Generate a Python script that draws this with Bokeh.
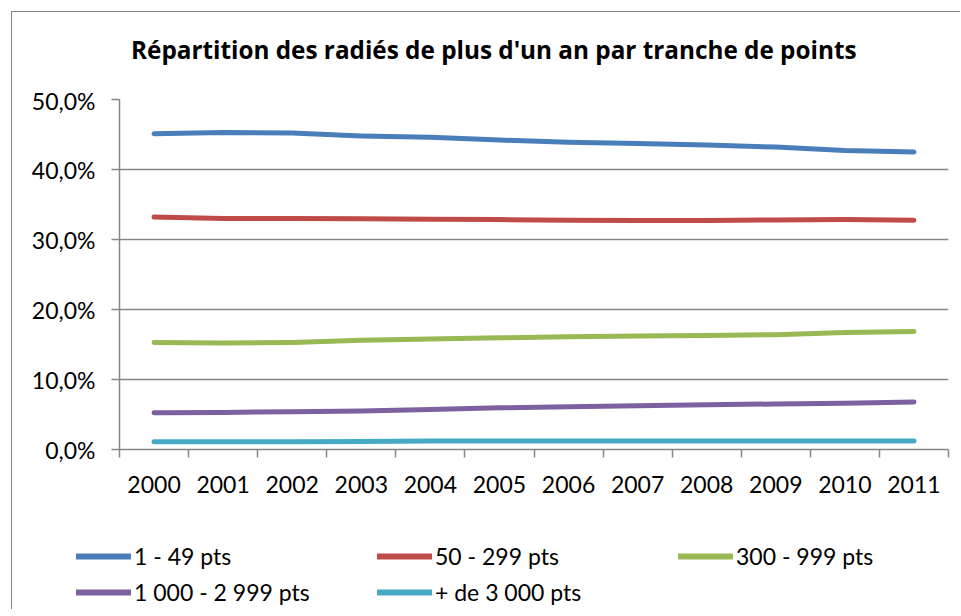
from bokeh.plotting import figure
from bokeh.layouts import column
from bokeh.models import FixedTicker, Legend, LegendItem, Range1d, Label
from bokeh.embed import file_html
from bokeh.resources import INLINE

years = ["2000", "2001", "2002", "2003", "2004", "2005", "2006", "2007", "2008", "2009", "2010", "2011"]
s_1_49 = [45.1, 45.3, 45.2, 44.8, 44.6, 44.2, 43.9, 43.7, 43.5, 43.2, 42.7, 42.5]
s_50_299 = [33.2, 33.0, 33.0, 32.95, 32.9, 32.85, 32.75, 32.7, 32.7, 32.8, 32.85, 32.75]
s_300_999 = [15.3, 15.2, 15.3, 15.6, 15.8, 15.95, 16.1, 16.2, 16.3, 16.4, 16.7, 16.85]
s_1000_2999 = [5.25, 5.3, 5.4, 5.5, 5.7, 5.95, 6.1, 6.25, 6.4, 6.5, 6.6, 6.8]
s_3000 = [1.1, 1.1, 1.1, 1.15, 1.2, 1.2, 1.2, 1.2, 1.2, 1.2, 1.2, 1.2]
series = [s_1_49, s_50_299, s_300_999, s_1000_2999, s_3000]
names = ["1 - 49 pts", "50 - 299 pts", "300 - 999 pts", "1 000 - 2 999 pts", "+ de 3 000 pts"]
colors = ["#4A7EBB", "#BE4B48", "#98B954", "#7D60A0", "#46AAC5"]
y_ticks = [0, 10, 20, 30, 40, 50]
y_tick_labels = ["0,0%", "10,0%", "20,0%", "30,0%", "40,0%", "50,0%"]
title_text = "Répartition des radiés de plus d'un an par tranche de points"

FONT = "Lato"
GRID = "#868686"
W = 948

x_centers = [i + 0.5 for i in range(len(years))]

# ---- title strip ----
pt = figure(width=W, height=74, output_backend="svg", toolbar_location=None,
            x_axis_location=None, y_axis_location=None,
            x_range=Range1d(0, W), y_range=Range1d(74, 0),
            min_border_left=0, min_border_right=0, min_border_top=0, min_border_bottom=0)
pt.frame_align = False
pt.grid.grid_line_color = None
pt.outline_line_color = None
pt.background_fill_color = "white"
pt.border_fill_color = "white"
pt.add_layout(Label(x=118.5, y=37, text=title_text, text_font="Open Sans", text_font_size="24.3px",
                    text_font_style="bold", text_color="black", text_align="left",
                    text_baseline="alphabetic"))

# ---- main chart ----
p = figure(frame_width=829, frame_height=350, output_backend="svg", toolbar_location=None,
           x_range=Range1d(0, len(years)), y_range=Range1d(0, 50),
           min_border_left=107, min_border_right=12, min_border_top=13, min_border_bottom=60)
p.frame_align = False
p.outline_line_color = None
p.background_fill_color = "white"
p.border_fill_color = "white"

for vals, col in zip(series, colors):
    p.line(x_centers, vals, line_color=col, line_width=5, line_cap="round", line_join="round")

p.xaxis.ticker = FixedTicker(ticks=x_centers, minor_ticks=list(range(len(years) + 1)))
p.xaxis.major_label_overrides = {x: y for x, y in zip(x_centers, years)}
p.xaxis.major_tick_line_color = None
p.xaxis.major_tick_out = 8
p.xaxis.major_tick_in = 0
p.xaxis.minor_tick_out = 8
p.xaxis.minor_tick_in = 0
p.xaxis.minor_tick_line_color = GRID
p.xaxis.minor_tick_line_width = 1.5
p.xaxis.axis_line_color = GRID
p.xaxis.axis_line_width = 1.5
p.xaxis.major_label_standoff = 18
p.xaxis.major_label_text_font = FONT
p.xaxis.major_label_text_font_size = "23px"
p.xaxis.major_label_text_color = "black"

p.yaxis.ticker = FixedTicker(ticks=y_ticks, minor_ticks=[])
p.yaxis.major_label_overrides = {t: l for t, l in zip(y_ticks, y_tick_labels)}
p.yaxis.major_tick_out = 8
p.yaxis.major_tick_in = 0
p.yaxis.major_tick_line_color = GRID
p.yaxis.major_tick_line_width = 1.5
p.yaxis.axis_line_color = GRID
p.yaxis.axis_line_width = 1.5
p.yaxis.major_label_standoff = 16
p.yaxis.major_label_text_font = FONT
p.yaxis.major_label_text_font_size = "23px"
p.yaxis.major_label_text_color = "black"

p.xgrid.grid_line_color = None
p.ygrid.grid_line_color = GRID
p.ygrid.grid_line_width = 1.5

# ---- legend strip (same series, drawn outside the visible range; only the legend shows) ----
pl = figure(width=W, height=100, output_backend="svg", toolbar_location=None,
            x_axis_location=None, y_axis_location=None,
            x_range=Range1d(0, len(years)), y_range=Range1d(-20, -10),
            min_border_left=0, min_border_right=0, min_border_top=0, min_border_bottom=0)
pl.frame_align = False
pl.grid.grid_line_color = None
pl.outline_line_color = None
pl.background_fill_color = "white"
pl.border_fill_color = "white"
leg_renderers = [pl.line(x_centers, vals, line_color=col, line_width=6, line_cap="round")
                 for vals, col in zip(series, colors)]

legend = Legend(items=[LegendItem(label=n, renderers=[r]) for n, r in zip(names, leg_renderers)],
                location=(64, -1), orientation="horizontal", ncols=3,
                glyph_width=55, glyph_height=36, label_height=36, label_width=243, label_standoff=3,
                padding=0, margin=0, spacing=0, border_line_color=None,
                background_fill_alpha=0, label_text_font=FONT, label_text_font_size="23px",
                label_text_color="black")
pl.add_layout(legend, "center")

layout = column(pt, p, pl, spacing=0)
layout.margin = (11, 0, 0, 11)
layout.styles = {"border-left": "1.5px solid #868686", "border-top": "1.5px solid #868686"}

open("out.html", "w").write(file_html(layout, INLINE))
